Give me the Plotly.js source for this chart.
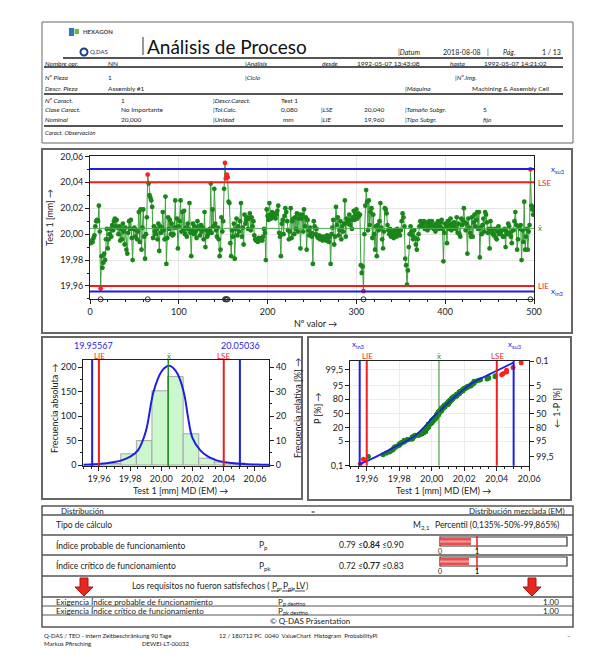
<!DOCTYPE html>
<html>
<head>
<meta charset="utf-8">
<script src="https://cdn.plot.ly/plotly-3.0.1.min.js"></script>
<style>html,body{margin:0;padding:0;background:#fff;}#chart{width:600px;height:669px;}</style>
</head>
<body>
<div id="chart"></div>
<script>
// ---------- DATA ----------
const LSE = 20.040, LIE = 19.960;
const xInf3 = 19.95567, xSup3 = 20.05036;

const values = [
19.993,19.995,19.994,19.997,19.999,20.006,20.010,20.011,20.010,20.022,20.002,19.958,19.983,19.974,19.978,19.985,19.980,19.996,20.004,19.989,
19.996,20.000,20.004,19.998,20.007,20.003,20.010,20.012,20.006,20.011,20.005,20.000,20.006,19.995,20.004,19.996,20.008,20.002,19.992,20.005,
19.988,19.985,20.001,20.010,20.004,20.011,19.997,19.980,20.004,20.005,19.998,20.003,19.996,20.002,20.017,19.994,20.019,19.988,20.005,20.019,
19.998,19.981,20.000,20.013,20.046,20.039,20.030,20.028,20.026,20.021,19.997,20.006,20.002,20.000,20.004,19.996,20.008,19.987,20.006,20.001,
20.005,20.017,20.003,19.996,20.029,19.977,19.997,20.013,20.004,20.011,20.000,20.008,19.999,20.000,20.005,20.026,20.005,20.012,19.989,20.006,
20.010,20.026,20.002,20.017,20.003,20.018,20.000,20.005,19.998,20.008,20.004,20.024,20.001,19.983,20.003,20.008,20.000,20.006,20.002,19.997,
20.010,20.004,20.006,19.999,20.007,20.002,20.005,19.996,20.017,19.990,20.003,19.998,20.000,20.002,20.004,20.039,20.001,20.019,20.006,20.035,
20.008,20.003,19.998,20.005,19.996,19.983,19.988,20.013,20.002,20.010,20.035,20.055,20.043,20.046,20.044,20.025,20.024,19.993,19.983,20.003,
19.998,20.008,19.981,20.004,20.012,19.999,20.006,20.002,20.010,20.024,19.998,20.005,19.992,20.015,20.008,20.011,20.013,20.004,20.012,20.016,
20.003,20.013,20.006,20.010,19.999,19.996,19.995,19.996,19.994,19.997,19.995,19.996,19.997,19.995,19.998,20.004,20.001,19.980,20.019,20.014,
20.011,20.024,20.015,20.012,20.017,20.013,20.014,20.016,20.012,20.015,20.018,20.022,20.001,19.998,19.983,20.008,20.011,20.000,20.014,20.020,
20.017,20.010,20.003,19.996,20.002,20.020,19.997,20.010,20.012,20.000,20.013,20.004,20.016,20.002,20.012,20.015,19.989,20.012,20.015,20.002,
20.019,20.006,20.013,19.988,20.011,20.003,19.999,20.005,20.001,19.998,19.977,20.010,20.006,20.000,20.004,19.998,19.997,19.999,19.996,19.998,
19.997,19.995,19.998,19.996,19.997,19.995,19.999,19.996,19.994,19.998,19.977,20.000,20.005,20.011,19.992,19.998,20.021,20.007,20.013,19.999,
20.003,20.010,19.996,20.006,20.002,20.008,20.026,19.998,20.012,20.010,20.008,20.015,20.007,20.011,20.004,20.013,20.018,20.011,20.015,20.019,
20.012,20.016,20.014,20.015,19.976,19.970,19.975,19.956,20.000,20.022,20.034,20.025,20.003,20.026,20.007,20.017,20.020,19.997,20.015,20.000,
19.988,20.006,19.983,20.007,20.003,20.010,20.024,20.005,19.996,19.989,20.002,20.020,20.019,20.016,20.007,20.003,20.000,20.004,19.998,20.002,
20.000,19.997,20.003,20.001,19.998,20.004,20.000,20.002,19.999,20.003,20.010,20.016,20.013,20.006,19.981,19.976,19.961,19.972,19.990,20.000,
20.006,20.002,19.999,19.996,20.003,19.997,19.992,19.988,19.996,20.000,20.006,20.010,20.007,20.008,20.006,20.010,20.004,20.009,20.005,20.003,
20.007,20.010,20.005,20.007,20.010,20.006,20.004,20.007,20.002,20.008,20.005,20.010,20.004,20.006,20.009,20.011,20.004,19.979,20.001,20.008,
20.006,19.993,20.010,20.004,20.007,20.012,20.003,20.008,20.005,20.009,20.006,20.004,20.013,20.001,20.008,20.000,19.998,20.012,20.007,20.011,
20.020,20.009,20.003,20.008,19.985,20.012,20.005,20.001,19.998,20.013,19.998,20.009,20.015,20.006,20.011,20.017,20.004,20.017,19.982,20.005,
20.000,20.007,20.012,20.002,20.017,20.015,20.009,20.001,20.004,19.989,20.010,20.004,20.001,20.000,19.999,20.004,19.997,19.996,20.002,20.006,
20.000,20.001,20.003,20.003,19.998,19.998,20.004,19.990,20.002,20.000,20.008,20.006,20.001,19.998,19.993,20.003,20.003,20.010,20.017,20.007,
19.988,19.996,20.006,20.004,20.007,19.980,20.003,19.994,20.025,19.988,19.998,20.004,19.988,20.002,20.007,20.050,20.022,20.019,20.015,20.021
];

const histBinCenters = [19.959,19.969,19.979,19.989,19.999,20.009,20.019,20.029,20.039,20.049,20.059];
const histCounts     = [2,3,23,50,152,181,64,14,6,4,1];

const curveX = [19.950,19.955,19.960,19.965,19.970,19.975,19.980,19.985,19.990,19.995,20.000,20.003,20.0055,20.009,20.012,20.015,20.017,20.020,20.025,20.030,20.035,20.040,20.045,20.050,20.055,20.060,20.065,20.069];
const curveY = [0.5,1,2,3.5,6,10,17,30,68,150,191,201,203,194,175,140,100,55,30,17,10,6,4,2.5,1.5,1,0.6,0.4];

const probLineX = [19.95567,19.965,19.975,19.985,19.990,19.995,20.000,20.005,20.010,20.015,20.020,20.025,20.030,20.040,20.05036];
const probLineP = [0.135,0.47,1.8,5.5,9.7,20,38,56,73,85,92.6,96.4,98.0,99.4,99.865];

const probTicksLeftP  = [0.1,5,20,50,80,95,99.5];
const probTicksLeftT  = ["0,1","5","20","50","80","95","99,5"];
const probTicksRightP = [99.9,95,80,50,20,5,0.5];
const probTicksRightT = ["0,1","5","20","50","80","95","99,5"];

// ---------- HELPERS ----------
const W = 600, H = 669;
const F = 'Lato, "Liberation Sans", sans-serif';
function probit(p){
  const a=[-3.969683028665376e+01,2.209460984245205e+02,-2.759285104469687e+02,1.383577518672690e+02,-3.066479806614716e+01,2.506628277459239e+00];
  const b=[-5.447609879822406e+01,1.615858368580409e+02,-1.556989798598866e+02,6.680131188771972e+01,-1.328068155288572e+01];
  const c=[-7.784894002430293e-03,-3.223964580411365e-01,-2.400758277161838e+00,-2.549732539343734e+00,4.374664141464968e+00,2.938163982698783e+00];
  const d=[7.784695709041462e-03,3.224671290700398e-01,2.445134137142996e+00,3.754408661907416e+00];
  const pl=0.02425, ph=1-pl; let q,r;
  if(p<pl){q=Math.sqrt(-2*Math.log(p));return (((((c[0]*q+c[1])*q+c[2])*q+c[3])*q+c[4])*q+c[5])/((((d[0]*q+d[1])*q+d[2])*q+d[3])*q+1);}
  if(p<=ph){q=p-0.5;r=q*q;return (((((a[0]*r+a[1])*r+a[2])*r+a[3])*r+a[4])*r+a[5])*q/(((((b[0]*r+b[1])*r+b[2])*r+b[3])*r+b[4])*r+1);}
  q=Math.sqrt(-2*Math.log(1-p));return -(((((c[0]*q+c[1])*q+c[2])*q+c[3])*q+c[4])*q+c[5])/((((d[0]*q+d[1])*q+d[2])*q+d[3])*q+1);
}
const X = px => px/W, Y = py => 1-py/H;
function T(px,py,text,o){o=o||{};return {xref:'paper',yref:'paper',x:X(px),y:Y(py),text:text,showarrow:false,
  xanchor:o.a||'left',yanchor:'middle',textangle:o.r||0,borderpad:0,
  font:{family:F,size:o.s||7,color:o.c||'#222',style:o.i?'italic':'normal',weight:o.b?'bold':'normal'}};}
// base letter + lowered smaller subscript as two plain texts
function S(px,py,base,sub,baseW,o){const ss=Object.assign({},o,{s:o.subS||o.s*0.72});
  return [T(px,py,base,o),T(px+baseW,py+o.s*0.3,sub,ss)];}
function L(x0,y0,x1,y1,col,w){return {type:'line',xref:'paper',yref:'paper',x0:X(x0),y0:Y(y0),x1:X(x1),y1:Y(y1),line:{color:col,width:w}};}
function R(x0,y0,x1,y1,col,w,fill){return {type:'rect',xref:'paper',yref:'paper',x0:X(x0),y0:Y(y0),x1:X(x1),y1:Y(y1),line:{color:col,width:w},fillcolor:fill||'rgba(0,0,0,0)'};}
function arrow(cx){const p=[[cx-4,578],[cx+4,578],[cx+4,587],[cx+9,587],[cx,596],[cx-9,587],[cx-4,587]];
  return {type:'path',xref:'paper',yref:'paper',path:'M'+p.map(q=>X(q[0])+','+Y(q[1])).join(' L')+' Z',fillcolor:'#e8281e',line:{color:'#b01010',width:1}};}

const BLUE='rgb(30,30,230)', RED='rgb(240,30,30)', GRN='rgb(40,140,40)', MEANC='rgb(80,170,80)';
const n = values.length;
const idx = values.map((v,i)=>i+1);
const mean = values.reduce((s,v)=>s+v,0)/n;
const out = v => v>LSE || v<LIE;
const ptColors = values.map(v=>out(v)?'#ff2020':'#1a861a');
const outIdx = idx.filter((k,i)=>out(values[i]));
const sorted = values.slice().sort((a,b)=>a-b);
const probZ = sorted.map((v,i)=>probit((i+1-0.3)/(n+0.4)));
const probCol = sorted.map(v=>out(v)?'#ff2020':'#1a861a');
const zMin = probit(0.001), zMax = probit(0.999);

// ---------- TRACES ----------
const traces = [
  {x:idx,y:values,xaxis:'x',yaxis:'y',mode:'lines',line:{color:'rgb(60,160,60)',width:1},hoverinfo:'skip'},
  {x:idx,y:values,xaxis:'x',yaxis:'y',mode:'markers',marker:{color:ptColors,size:4.8},hoverinfo:'skip'},
  {x:outIdx,y:outIdx.map(()=>19.9497),xaxis:'x',yaxis:'y',mode:'markers',cliponaxis:false,
    marker:{symbol:'circle-open',size:5,color:'#333',line:{width:1}},hoverinfo:'skip'},
  {x:histBinCenters,y:histCounts,type:'bar',xaxis:'x2',yaxis:'y2',width:0.01,
    marker:{color:'rgb(204,246,204)',line:{color:'rgb(165,165,165)',width:1}},hoverinfo:'skip'},
  {x:curveX,y:curveY,xaxis:'x2',yaxis:'y2',mode:'lines',line:{color:BLUE,width:2,shape:'spline'},hoverinfo:'skip'},
  {x:[20],y:[0],xaxis:'x2',yaxis:'y3',mode:'markers',marker:{opacity:0},hoverinfo:'skip'},
  {x:sorted,y:probZ,xaxis:'x3',yaxis:'y4',mode:'markers',marker:{color:probCol,size:5},hoverinfo:'skip'},
  {x:probLineX,y:probLineP.map(p=>probit(p/100)),xaxis:'x3',yaxis:'y4',mode:'lines',line:{color:BLUE,width:1.8,shape:'spline'},hoverinfo:'skip'},
  {x:[20],y:[0],xaxis:'x3',yaxis:'y5',mode:'markers',marker:{opacity:0},hoverinfo:'skip'}
];

// ---------- AXES ----------
const tf = {family:F,size:9,color:'#222'};
const baseAx = {showline:true,linecolor:'#222',linewidth:1,ticks:'outside',ticklen:4,tickcolor:'#222',zeroline:false,tickfont:tf,fixedrange:true};
const layout = {
  width:W,height:H,margin:{l:0,r:0,t:0,b:0},paper_bgcolor:'#fff',plot_bgcolor:'#fff',
  showlegend:false,separators:', ',font:{family:F},
  xaxis:Object.assign({},baseAx,{domain:[X(90),X(534)],range:[0,500],dtick:100,anchor:'y',mirror:true,
    showgrid:true,gridcolor:'#e6e6e6',minor:{dtick:20,ticks:'outside',ticklen:2,tickcolor:'#222'}}),
  yaxis:Object.assign({},baseAx,{domain:[Y(299.3),Y(156.4)],range:[19.9497,20.06],tick0:19.96,dtick:0.02,tickformat:'.2f',anchor:'x',mirror:true,
    showgrid:true,gridcolor:'#e6e6e6',minor:{dtick:0.01,ticks:'outside',ticklen:2,tickcolor:'#222'}}),
  xaxis2:Object.assign({},baseAx,{domain:[X(83.3),X(269)],range:[19.95,20.069],tick0:19.96,dtick:0.02,tickformat:'.2f',anchor:'y2',mirror:true,
    showgrid:false,minor:{dtick:0.005,ticks:'outside',ticklen:2,tickcolor:'#222'}}),
  yaxis2:Object.assign({},baseAx,{domain:[Y(466),Y(360)],range:[-2,215],dtick:50,anchor:'x2',showgrid:false,
    minor:{dtick:25,ticks:'outside',ticklen:2,tickcolor:'#222'}}),
  yaxis3:Object.assign({},baseAx,{overlaying:'y2',side:'right',anchor:'x2',range:[-0.4,43],dtick:10,showgrid:false,
    minor:{dtick:5,ticks:'outside',ticklen:2,tickcolor:'#222'}}),
  xaxis3:Object.assign({},baseAx,{domain:[X(350),X(529.3)],range:[19.9497,20.06],tick0:19.96,dtick:0.02,tickformat:'.2f',anchor:'y4',mirror:true,
    showgrid:true,gridcolor:'#ececec',minor:{dtick:0.005,ticks:'outside',ticklen:2,tickcolor:'#222'}}),
  yaxis4:Object.assign({},baseAx,{domain:[Y(465.7),Y(361)],range:[zMin,zMax],anchor:'x3',showgrid:true,gridcolor:'#ececec',
    tickmode:'array',tickvals:probTicksLeftP.map(p=>probit(p/100)),ticktext:probTicksLeftT}),
  yaxis5:Object.assign({},baseAx,{overlaying:'y4',side:'right',anchor:'x3',range:[zMin,zMax],showgrid:false,
    tickmode:'array',tickvals:probTicksRightP.map(p=>probit(p/100)),ticktext:probTicksRightT})
};

// ---------- SHAPES ----------
const shapes = [
  R(42,22,573,143,'#666',1),
  R(42,149,572,333,'#666',2),
  R(42,337,302,499,'#666',2),
  R(308,337,571,500,'#666',2),
  L(143,37,143,55,'#333',1),
  L(63,58,563,58,'#555',2),
  L(44,67,563,67,'#555',2),
  L(44,94,563,94,'#555',2),
  L(44,126,563,126,'#555',2),
  {type:'rect',xref:'paper',yref:'paper',x0:X(69),y0:Y(36),x1:X(74),y1:Y(28),fillcolor:'#2a7ac0',line:{width:0}},
  {type:'rect',xref:'paper',yref:'paper',x0:X(74.5),y0:Y(34),x1:X(79),y1:Y(29),fillcolor:'#7cb342',line:{width:0}},
  {type:'circle',xref:'paper',yref:'paper',x0:X(80.5),y0:Y(48.5),x1:X(87.5),y1:Y(55.5),line:{color:'#1d3f8f',width:2}},
  {type:'line',xref:'x',yref:'y',x0:0,x1:500,y0:xSup3,y1:xSup3,line:{color:BLUE,width:2}},
  {type:'line',xref:'x',yref:'y',x0:0,x1:500,y0:LSE,y1:LSE,line:{color:RED,width:2}},
  {type:'line',xref:'x',yref:'y',x0:0,x1:500,y0:mean,y1:mean,line:{color:MEANC,width:1}},
  {type:'line',xref:'x',yref:'y',x0:0,x1:500,y0:LIE,y1:LIE,line:{color:RED,width:2}},
  {type:'line',xref:'x',yref:'y',x0:0,x1:500,y0:xInf3,y1:xInf3,line:{color:BLUE,width:2}},
  {type:'line',xref:'x2',yref:'y2 domain',x0:xInf3,x1:xInf3,y0:0,y1:1,line:{color:BLUE,width:2}},
  {type:'line',xref:'x2',yref:'y2 domain',x0:LIE,x1:LIE,y0:0,y1:1,line:{color:RED,width:2}},
  {type:'line',xref:'x2',yref:'y2 domain',x0:mean,x1:mean,y0:0,y1:1,line:{color:GRN,width:1.5}},
  {type:'line',xref:'x2',yref:'y2 domain',x0:LSE,x1:LSE,y0:0,y1:1,line:{color:RED,width:2}},
  {type:'line',xref:'x2',yref:'y2 domain',x0:xSup3,x1:xSup3,y0:0,y1:1,line:{color:BLUE,width:2}},
  {type:'line',xref:'x3',yref:'y4 domain',x0:xInf3,x1:xInf3,y0:0,y1:1,line:{color:BLUE,width:2}},
  {type:'line',xref:'x3',yref:'y4 domain',x0:LIE,x1:LIE,y0:0,y1:1,line:{color:RED,width:2}},
  {type:'line',xref:'x3',yref:'y4 domain',x0:mean,x1:mean,y0:0,y1:1,line:{color:GRN,width:1}},
  {type:'line',xref:'x3',yref:'y4 domain',x0:LSE,x1:LSE,y0:0,y1:1,line:{color:RED,width:2}},
  {type:'line',xref:'x3',yref:'y4 domain',x0:xSup3,x1:xSup3,y0:0,y1:1,line:{color:BLUE,width:2}},
  R(42,506,573,627,'#555',1.5),
  L(42,515,573,515,'#555',1.5),
  L(42,535,573,535,'#555',1.5),
  L(42,555,573,555,'#555',1.5),
  L(42,576,573,576,'#555',1.5),
  L(42,597,573,597,'#555',1.5),
  L(42,606,573,606,'#555',1),
  L(42,615,573,615,'#555',1),
  R(440,537,567,546,'#333',1.2,'#fff'),
  R(440,538,471,545,'rgba(0,0,0,0)',0,'#e65050'),
  R(440,540.5,471,542.5,'rgba(0,0,0,0)',0,'#f4a0a0'),
  L(477,536,477,549,RED,1.5),
  R(440,557,567,566,'#333',1.2,'#fff'),
  R(440,558,469,565,'rgba(0,0,0,0)',0,'#e65050'),
  R(440,560.5,469,562.5,'rgba(0,0,0,0)',0,'#f4a0a0'),
  L(477,556,477,569,RED,1.5),
  // underlines of (Pp, Ppk, LV)
  L(271,591,279,591,'#222',0.8),
  L(282,591,292,591,'#222',0.8),
  L(295,591,305,591,'#222',0.8),
  arrow(84), arrow(532)
];

// ---------- ANNOTATIONS ----------
const it = {s:6.5,i:true}, up = {s:6.5};
const ann = [
  T(82,32,'HEXAGON',{s:6,c:'#444',b:true}),
  T(89,52,'Q.DAS',{s:6,c:'#335'}),
  T(146,46,'Análisis de Proceso',{s:19,c:'#111'}),
  T(397,52,'|Datum',{s:7,i:true}), T(442,52,'2018-08-08',{s:7}), T(486,52,'|',{s:7}), T(502,52,'Pág.',{s:7,i:true}), T(562,52,'1 / 13',{s:7,a:'right'}),
  T(44,63,'Nombre opr.',it), T(107,63,'NN',up), T(244,63,'|Análisis',it), T(321,63,'desde',it),
  T(356,63,'1992-05-07 13:43:08',up), T(449,63,'hasta',it), T(483,63,'1992-05-07 14:21:02',up),
  T(44,77,'Nº Pieza',it), T(107,77,'1',up), T(244,77,'|Ciclo',it), T(454,77,'|Nº.Img.',it),
  T(44,88,'Descr. Pieza',it), T(107,88,'Assembly #1',up), T(404,88,'|Máquina',it), T(471,88,'Machining &amp; Assembly Cell',up),
  T(44,100,'Nº Caract.',it), T(120,100,'1',up), T(212,100,'|Descr.Caract.',it), T(280,100,'Test 1',up),
  T(44,110,'Clase Caract.',it), T(120,110,'No Importante',up), T(212,110,'|Tol.Calc.',it), T(280,110,'0,080',up),
  T(320,110,'|LSE',it), T(363,110,'20,040',up), T(404,110,'|Tamaño Subgr.',it), T(482,110,'5',up),
  T(44,120,'Nominal',it), T(120,120,'20,000',up), T(212,120,'|Unidad',it), T(282,120,'mm',up),
  T(320,120,'|LIE',it), T(363,120,'19,960',up), T(404,120,'|Tipo Subgr.',it), T(482,120,'fijo',it),
  T(44,132,'Caract. Observación',{s:6,i:true}),
  // value chart
  T(50,218,'Test 1 [mm] →',{s:9,r:-90,a:'center'}),
  T(316,323,'Nº valor →',{s:9,a:'center'}),
  ...S(550,169,'x','su3',4.4,{s:8,c:BLUE}),
  T(537,183,'LSE',{s:8,c:RED}),
  T(537,228,'x̄',{s:8,c:GRN}),
  T(537,286,'LIE',{s:8,c:RED}),
  ...S(550,291,'x','in3',4.4,{s:8,c:BLUE}),
  // histogram
  T(93,345,String(xInf3),{s:9,c:BLUE,a:'center'}),
  T(240,345,String(xSup3),{s:9,c:BLUE,a:'center'}),
  T(99,356,'LIE',{s:8,c:RED,a:'center'}),
  T(223,356,'LSE',{s:8,c:RED,a:'center'}),
  T(169,356,'x̄',{s:8,c:GRN,a:'center'}),
  T(54,408,'Frecuencia absoluta →',{s:9,r:-90,a:'center'}),
  T(297,408,'Frecuencia relativa [%] →',{s:9,r:-90,a:'center'}),
  T(180,490,'Test 1 [mm] MD (EM) →',{s:9,a:'center'}),
  // probability
  ...S(351,344,'x','in3',4.4,{s:8,c:BLUE}),
  ...S(507,344,'x','su3',4.4,{s:8,c:BLUE}),
  T(367,356,'LIE',{s:8,c:RED,a:'center'}),
  T(497,356,'LSE',{s:8,c:RED,a:'center'}),
  T(439,356,'x̄',{s:8,c:GRN,a:'center'}),
  T(317,408,'P [%] →',{s:9,r:-90,a:'center'}),
  T(556,408,'← 1-P [%]',{s:9,r:-90,a:'center'}),
  T(443,490,'Test 1 [mm] MD (EM) →',{s:9,a:'center'}),
  // table
  T(60,510.5,'Distribución',{s:8}), T(313,510.5,'=',{s:7,a:'center'}), T(566,510.5,'Distribución mezclada (EM)',{s:8,a:'right'}),
  T(55,525,'Tipo de cálculo',{s:8.5}),
  ...S(412,525,'M','2,1',7.6,{s:8.5}),
  T(560,525,'Percentil (0,135%-50%-99,865%)',{s:8.5,a:'right'}),
  T(55,545,'Índice probable de funcionamiento',{s:8.5}),
  ...S(258,545,'P','p',5,{s:8.5}),
  T(338,545,'0.79 ≤',{s:8.5}), T(362,545,'0.84',{s:8.5,b:true}), T(381,545,'≤0.90',{s:8.5}),
  T(440,550.5,'0',{s:7,a:'center'}), T(477,550.5,'1',{s:7,a:'center',b:true}),
  T(55,565.5,'Índice crítico de funcionamiento',{s:8.5}),
  ...S(258,565.5,'P','pk',5,{s:8.5}),
  T(338,565.5,'0.72 ≤',{s:8.5}), T(362,565.5,'0.77',{s:8.5,b:true}), T(381,565.5,'≤0.83',{s:8.5}),
  T(440,571,'0',{s:7,a:'center'}), T(477,571,'1',{s:7,a:'center',b:true}),
  T(271,586,'Los requisitos no fueron satisfechos (',{s:8.5,a:'right'}),
  ...S(271,586,'P','p',5,{s:8.5}),
  T(279,586,',',{s:8.5}),
  ...S(282,586,'P','pk',5,{s:8.5}),
  T(292,586,',',{s:8.5}),
  T(295,586,'LV',{s:8.5}),
  T(305,586,')',{s:8.5}),
  T(55,601.5,'Exigencia Índice probable de funcionamiento',{s:8}),
  ...S(277,601.5,'P','p destino',4.8,{s:8,subS:5.5}),
  T(560,601.5,'1.00',{s:8,a:'right'}),
  T(55,610.5,'Exigencia Índice crítico de funcionamiento',{s:8}),
  ...S(277,610.5,'P','pk destino',4.8,{s:8,subS:5.5}),
  T(560,610.5,'1.00',{s:8,a:'right'}),
  T(310,621,'© Q-DAS Präsentation',{s:8,a:'center'}),
  // footer
  T(43,635,'Q-DAS / TEO - intern Zeitbeschränkung 90 Tage',{s:6}),
  T(218,635,'12 / 180712 PC  0040  ValueChart  Histogram  ProbabilityPl',{s:6}),
  T(571,635,'–',{s:6,a:'right'}),
  T(43,643,'Markus Pfirsching',{s:6}),
  T(141,643,'DEWEI-LT-00032',{s:6})
];

layout.shapes = shapes;
layout.annotations = ann;
Plotly.newPlot('chart', traces, layout, {displayModeBar:false, staticPlot:true});
</script>
</body>
</html>
